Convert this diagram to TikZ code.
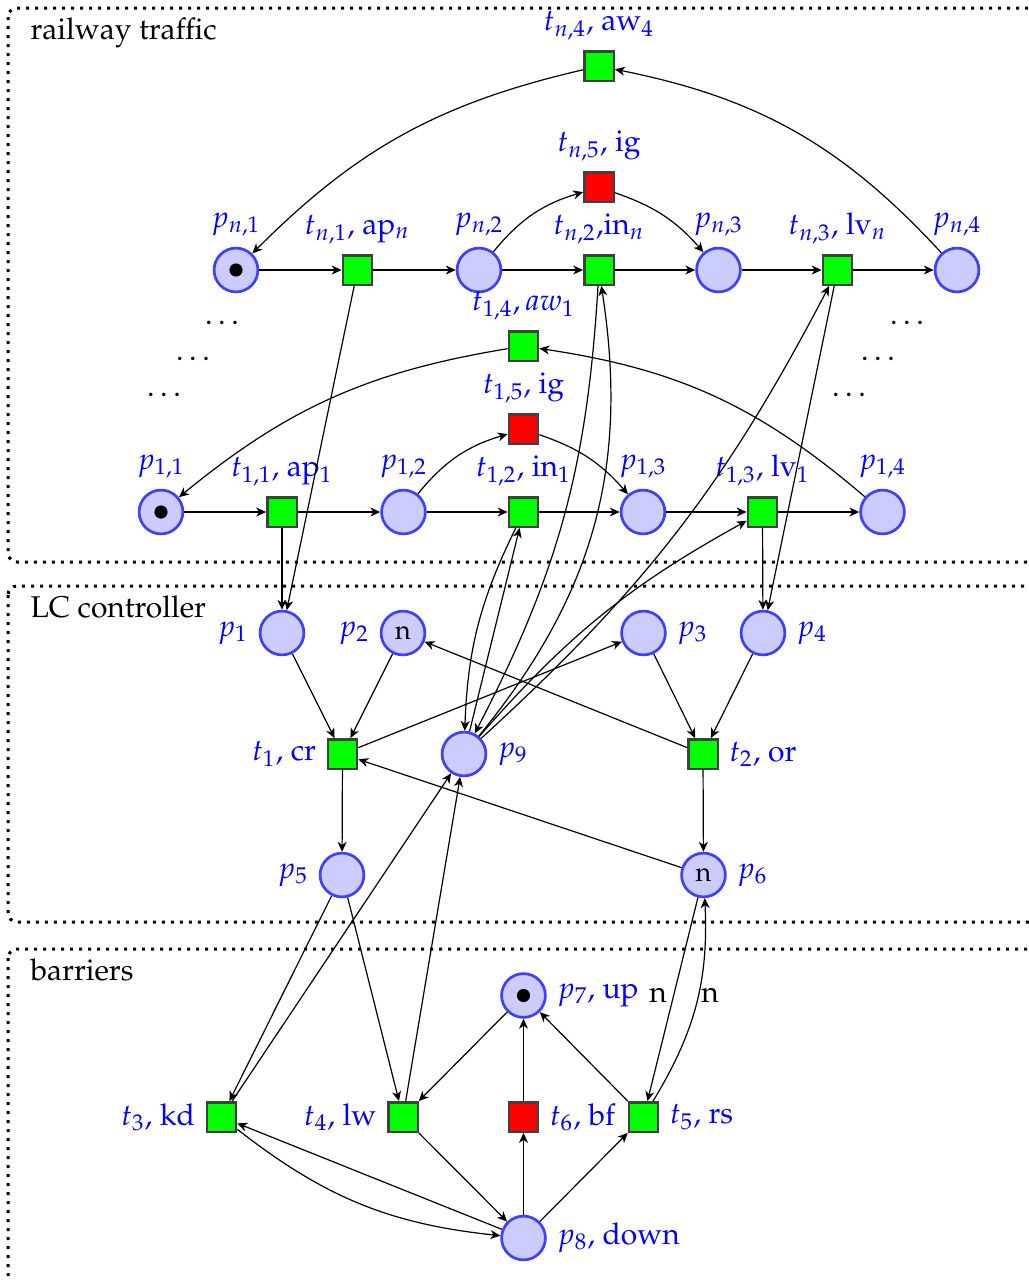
\documentclass[tikz,border=0pt]{standalone}
\usepackage[T1]{fontenc}
\usepackage{mathpazo}
\usetikzlibrary{arrows.meta}
\begin{document}
\begin{tikzpicture}[x=0.33333pt,y=0.33333pt,
  place/.style={circle,draw=blue!75,fill=blue!20,line width=0.9pt,minimum size=14.6pt,inner sep=0pt,font=\small},
  trans/.style={rectangle,draw=black!75,fill=green,line width=0.8pt,minimum size=9.8pt,inner sep=0pt},
  redtrans/.style={trans,fill=red},
  lab/.style={text=blue,font=\normalsize},
  arc/.style={-{Stealth[length=3.3pt,width=3pt,inset=1pt]},line width=0.4pt},
  boxline/.style={dotted,line width=1pt,rounded corners=3pt},
  title/.style={anchor=base west,inner sep=0pt},
  dots/.style={anchor=base,inner sep=0pt},
]
\useasboundingbox (0,0) rectangle (1029,-1280);
\clip (0,0) rectangle (1029,-1280);

% boxes
\draw[boxline] (8,-8) rectangle (1050,-562);
\draw[boxline] (8,-586) rectangle (1050,-922);
\draw[boxline] (8,-949) rectangle (1050,-1300);
\node[title] (tt1) at (30,-39) {railway traffic};
\node[title] (tt2) at (30,-617) {LC controller};
\node[title] (tt3) at (30,-980) {barriers};

% row n
\node[place,label={[lab]above:{$p_{n,1}$}}] (pn1) at (236,-270) {};
\node[trans,label={[lab]above:{$t_{n,1}$, ap$_n$}}] (tn1) at (357.5,-270) {};
\node[place,label={[lab]above:{$p_{n,2}$}}] (pn2) at (479,-270) {};
\node[trans,label={[lab]above:{$t_{n,2}$,in$_n$}}] (tn2) at (599,-270) {};
\node[redtrans,label={[lab]above:{$t_{n,5}$, ig}}] (tn5) at (599,-187) {};
\node[trans,label={[lab]above:{$t_{n,4}$, aw$_4$}}] (tn4) at (599,-66) {};
\node[place,label={[lab]above:{$p_{n,3}$}}] (pn3) at (718.5,-270) {};
\node[trans,label={[lab]above:{$t_{n,3}$, lv$_n$}}] (tn3) at (837.5,-270) {};
\node[place,label={[lab]above:{$p_{n,4}$}}] (pn4) at (957,-270) {};

% row 1
\node[place,label={[lab]above:{$p_{1,1}$}}] (p11) at (161,-512) {};
\node[trans,label={[lab]above:{$t_{1,1}$, ap$_1$}}] (t11) at (282,-512) {};
\node[place,label={[lab]above:{$p_{1,2}$}}] (p12) at (403.5,-512) {};
\node[trans,label={[lab]above:{$t_{1,2}$, in$_1$}}] (t12) at (523.5,-512) {};
\node[redtrans,label={[lab]above:{$t_{1,5}$, ig}}] (t15) at (523.5,-429) {};
\node[trans,label={[lab]above:{$t_{1,4}, aw_1$}}] (t14) at (523.5,-346) {};
\node[place,label={[lab]above:{$p_{1,3}$}}] (p13) at (643,-512) {};
\node[trans,label={[lab]above:{$t_{1,3}$, lv$_1$}}] (t13) at (762.5,-512) {};
\node[place,label={[lab]above:{$p_{1,4}$}}] (p14) at (882.5,-512) {};

\fill (pn1) circle[radius=2.2pt];
\fill (p11) circle[radius=2.2pt];

% dots
\node[dots] (d1) at (222,-324) {$\ldots$};
\node[dots] (d2) at (193,-360) {$\ldots$};
\node[dots] (d3) at (164,-396) {$\ldots$};
\node[dots] (d4) at (907,-324) {$\ldots$};
\node[dots] (d5) at (878,-360) {$\ldots$};
\node[dots] (d6) at (849,-396) {$\ldots$};

% LC controller
\node[place,label={[lab]left:{$p_1$}}] (p1) at (282,-633) {};
\node[place,label={[lab]left:{$p_2$}}] (p2) at (403,-633) {n};
\node[place,label={[lab]right:{$p_3$}}] (p3) at (643.5,-633) {};
\node[place,label={[lab]right:{$p_4$}}] (p4) at (763,-633) {};
\node[trans,label={[lab]left:{$t_1$, cr}}] (t1) at (342.5,-754) {};
\node[place,label={[lab]right:{$p_9$}}] (p9) at (464,-754) {};
\node[trans,label={[lab]right:{$t_2$, or}}] (t2) at (703,-754) {};
\node[place,label={[lab]left:{$p_5$}}] (p5) at (342,-875) {};
\node[place,label={[lab]right:{$p_6$}}] (p6) at (703.5,-875) {n};

% barriers
\node[place,label={[lab]right:{$p_7$, up}}] (p7) at (523.5,-995.5) {};
\fill (p7) circle[radius=2.2pt];
\node[trans,label={[lab]left:{$t_3$, kd}}] (t3) at (221.5,-1117) {};
\node[trans,label={[lab]left:{$t_4$, lw}}] (t4) at (403,-1117) {};
\node[redtrans,label={[lab]right:{$t_6$, bf}}] (t6) at (523.5,-1117) {};
\node[trans,label={[lab]right:{$t_5$, rs}}] (t5) at (643.5,-1117) {};
\node[place,label={[lab]right:{$p_8$, down}}] (p8) at (523.5,-1238) {};
\node (n1) at (658,-995) {n};
\node (n2) at (710,-995) {n};

% arcs row n
\draw[arc] (pn1) -- (tn1);
\draw[arc] (tn1) -- (pn2);
\draw[arc] (pn2) -- (tn2);
\draw[arc] (tn2) -- (pn3);
\draw[arc] (pn3) -- (tn3);
\draw[arc] (tn3) -- (pn4);
\draw[arc] (pn2) to[bend left=17] (tn5);
\draw[arc] (tn5) to[bend left=15] (pn3);
\draw[arc] (pn4) to[bend right=18] (tn4);
\draw[arc] (tn4) to[bend right=16] (pn1);

% arcs row 1
\draw[arc] (p11) -- (t11);
\draw[arc] (t11) -- (p12);
\draw[arc] (p12) -- (t12);
\draw[arc] (t12) -- (p13);
\draw[arc] (p13) -- (t13);
\draw[arc] (t13) -- (p14);
\draw[arc] (p12) to[bend left=17] (t15);
\draw[arc] (t15) to[bend left=15] (p13);
\draw[arc] (p14) to[bend right=16] (t14);
\draw[arc] (t14) to[bend right=15] (p11);

% between traffic and controller
\draw[arc] (t11) -- (p1);
\draw[arc] (tn1) -- (p1);
\draw[arc] (t13) -- (p4);
\draw[arc] (tn3) -- (p4);
\draw[arc] (t12) to[bend right=12] (p9);
\draw[arc] (p9) -- (t12);
\draw[arc] (tn2) to[bend left=12] (p9);
\draw[arc] (p9) to[bend right=24] (tn2);
\draw[arc] (p9) to[bend right=10] (tn3);
\draw[arc] (p9) to[bend left=10] (t13);

% controller
\draw[arc] (p1) -- (t1);
\draw[arc] (p2) -- (t1);
\draw[arc] (t1) -- (p5);
\draw[arc] (t1) -- (p3);
\draw[arc] (t2) -- (p2);
\draw[arc] (p6) -- (t1);
\draw[arc] (p3) -- (t2);
\draw[arc] (p4) -- (t2);
\draw[arc] (t2) -- (p6);

% barriers
\draw[arc] (p5) -- (t3);
\draw[arc] (p5) -- (t4);
\draw[arc] (t3) -- (p9);
\draw[arc] (t4) -- (p9);
\draw[arc] (p7) -- (t4);
\draw[arc] (t4) -- (p8);
\draw[arc] (t3) to[bend right=16] (p8);
\draw[arc] (p8) -- (t3);
\draw[arc] (p8) -- (t6);
\draw[arc] (t6) -- (p7);
\draw[arc] (p8) -- (t5);
\draw[arc] (t5) -- (p7);
\draw[arc] (p6) -- (t5);
\draw[arc] (t5) to[bend right=17] (p6);
\end{tikzpicture}
\end{document}
